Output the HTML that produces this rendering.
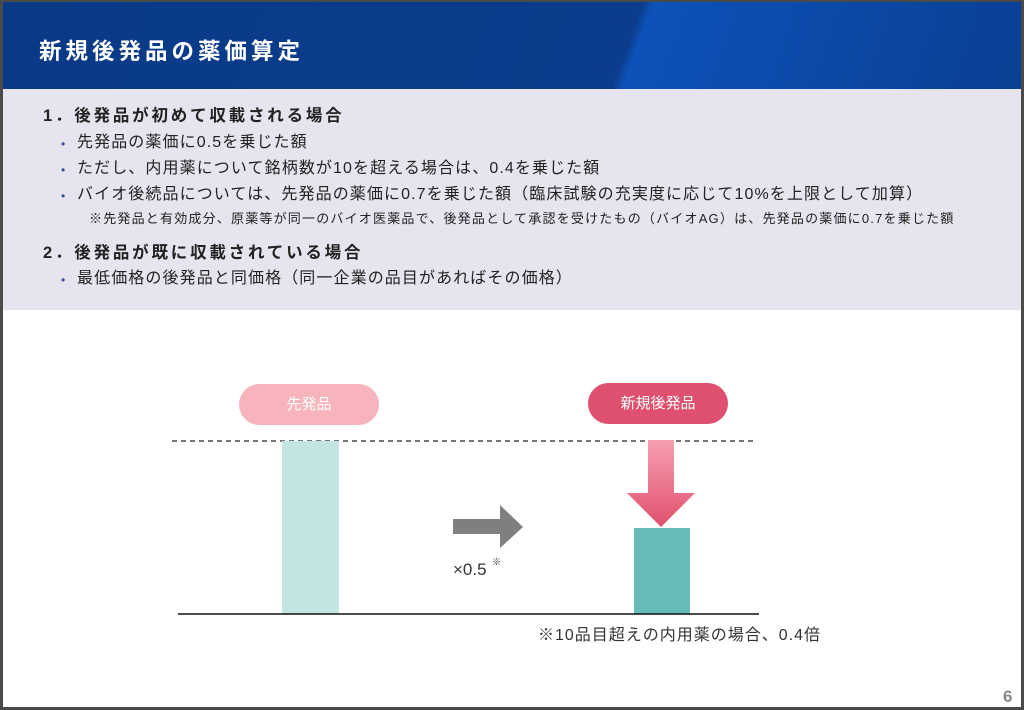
<!DOCTYPE html>
<html><head><meta charset="utf-8"><style>
*{margin:0;padding:0;box-sizing:border-box}
body{width:1024px;height:710px;background:#4a4a4a;position:relative;overflow:hidden;font-family:"Liberation Sans","Noto Sans CJK JP",sans-serif}
#page{position:absolute;left:3px;top:2px;width:1018px;height:705px;background:#fff;overflow:hidden}
#hdr{position:absolute;left:0;top:0;width:1018px;height:87px;background:linear-gradient(110deg,#0a3a86 0%,#0b3d8c 60%,#0b3d8c 61%,#0c52b8 62%,#0a3f94 100%)}
#hdr .t{position:absolute;left:36px;top:39px;font-size:22.5px;font-weight:bold;color:#fff;letter-spacing:4px;line-height:1}
#box{position:absolute;left:0;top:87px;width:1018px;height:221px;background:#e6e4ee}
.l{position:absolute;white-space:nowrap;color:#222;line-height:1}
.h{font-size:16.5px;font-weight:bold;left:40px;letter-spacing:2.8px}
.b{font-size:16px;left:74px;letter-spacing:1.1px}
.b:before{content:"•";position:absolute;left:-16px;color:#3a4a9a;font-size:12px;top:3px}
.n{font-size:13px;left:86px;letter-spacing:1.2px}
.pill{position:absolute;height:41px;border-radius:21px;color:#fff;font-size:15px;text-align:center;line-height:41px}
</style></head><body><div id="page">
<div id="hdr"><div class="t">新規後発品の薬価算定</div></div>
<div id="box"></div>
<div class="l h" style="top:106px">1．後発品が初めて収載される場合</div>
<div class="l b" style="top:133px">先発品の薬価に0.5を乗じた額</div>
<div class="l b" style="top:159px">ただし、内用薬について銘柄数が10を超える場合は、0.4を乗じた額</div>
<div class="l b" style="top:185px">バイオ後続品については、先発品の薬価に0.7を乗じた額（臨床試験の充実度に応じて10%を上限として加算）</div>
<div class="l n" style="top:210px">※先発品と有効成分、原薬等が同一のバイオ医薬品で、後発品として承認を受けたもの（バイオAG）は、先発品の薬価に0.7を乗じた額</div>
<div class="l h" style="top:243px">2．後発品が既に収載されている場合</div>
<div class="l b" style="top:269px">最低価格の後発品と同価格（同一企業の品目があればその価格）</div>
<div class="pill" style="left:236px;top:382px;width:140px;background:#f7b4bc">先発品</div>
<div class="pill" style="left:585px;top:381px;width:140px;background:#df4f6e">新規後発品</div>
<svg width="1018" height="705" style="position:absolute;left:0;top:0">
<defs><linearGradient id="g" x1="0" y1="0" x2="0" y2="1"><stop offset="0" stop-color="#f6a0b0"/><stop offset="1" stop-color="#e0506e"/></linearGradient></defs>
<line x1="169" y1="439" x2="750" y2="439" stroke="#222" stroke-width="1.2" stroke-dasharray="5,4"/>
<rect x="279" y="439" width="57" height="173" fill="#c4e4e2"/>
<rect x="631" y="526" width="56" height="86" fill="#65bcb7"/>
<path d="M645 438 H671 V491 H692 L658 525 L624 491 H645 Z" fill="url(#g)"/>
<path d="M450 517 H497 V503 L520 525 L497 546 V532 H450 Z" fill="#7f7f7f"/>
<line x1="175" y1="612" x2="756" y2="612" stroke="#111" stroke-width="1.5"/>
<text x="450" y="573" font-size="17" fill="#333" font-family="Liberation Sans,sans-serif">×0.5</text>
<text x="489" y="563" font-size="9" fill="#333" font-family="Liberation Sans,Noto Sans CJK JP,sans-serif">※</text>
<text x="535" y="638" font-size="16" fill="#333" letter-spacing="1" font-family="Liberation Sans,Noto Sans CJK JP,sans-serif">※10品目超えの内用薬の場合、0.4倍</text>
<text x="1000" y="700" font-size="17" font-weight="bold" fill="#888" font-family="Liberation Sans,sans-serif">6</text>
</svg>
</div></body></html>
